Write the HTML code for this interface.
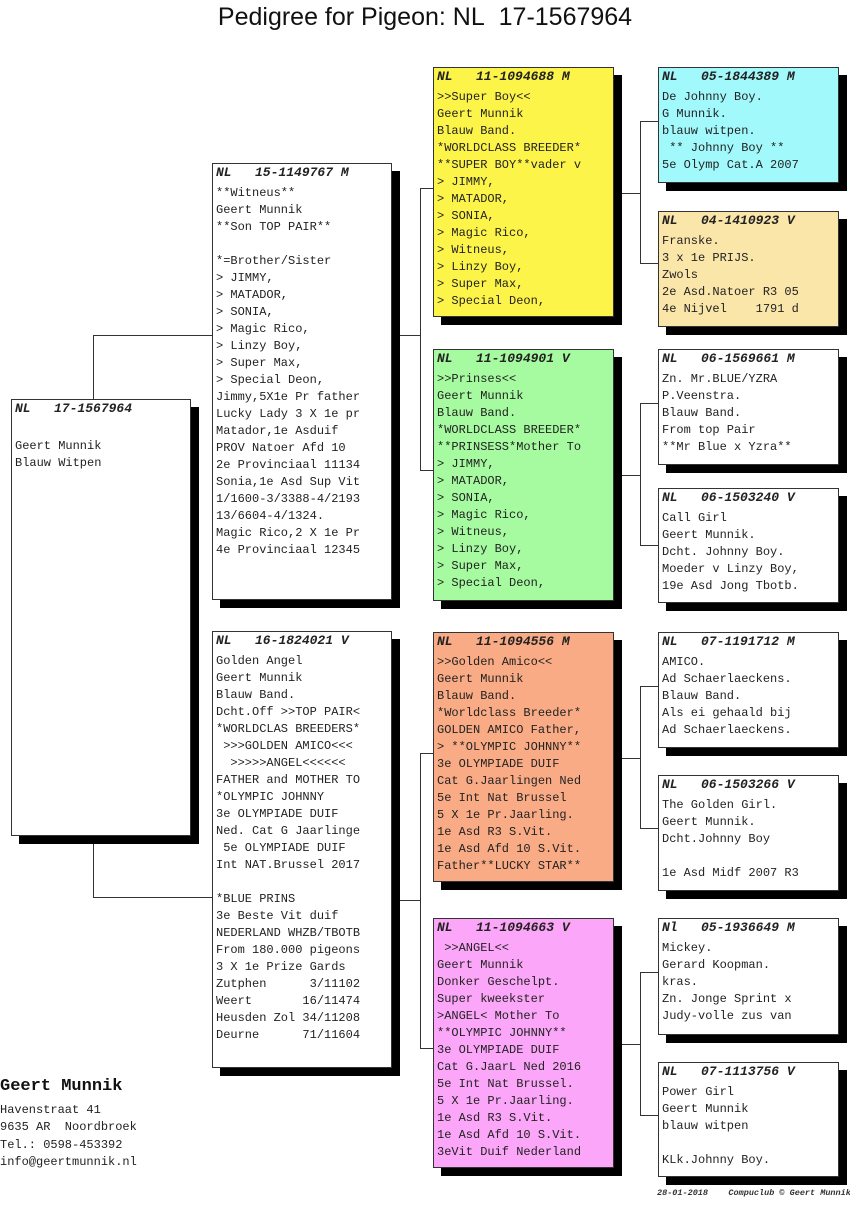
<!DOCTYPE html>
<html><head><meta charset="utf-8">
<style>
html,body{margin:0;padding:0;background:#fff;}
body{width:850px;height:1221px;position:relative;overflow:hidden;font-family:"Liberation Mono",monospace;color:#222;}
.b{position:absolute;border:1px solid #333;box-shadow:8px 8px 0 #000;box-sizing:border-box;padding:0 3px;font-size:12px;line-height:17px;white-space:pre;overflow:hidden;}
.h{font-weight:bold;font-style:italic;margin-bottom:4px;font-size:13px;}
.l{position:absolute;background:#333;}
.t{position:absolute;left:0;top:3px;width:850px;text-align:center;font-family:"Liberation Sans",Arial,sans-serif;font-size:25px;color:#111;}
</style></head><body>
<div class="t">Pedigree for Pigeon: NL&nbsp; 17-1567964</div>

<!-- connectors -->
<div class="l" style="left:93px;top:335px;width:1px;height:563px"></div>
<div class="l" style="left:93px;top:335px;width:119px;height:1px"></div>
<div class="l" style="left:93px;top:897px;width:119px;height:1px"></div>

<div class="l" style="left:392px;top:335px;width:28px;height:1px"></div>
<div class="l" style="left:420px;top:188px;width:1px;height:283px"></div>
<div class="l" style="left:420px;top:188px;width:13px;height:1px"></div>
<div class="l" style="left:420px;top:470px;width:13px;height:1px"></div>

<div class="l" style="left:392px;top:900px;width:28px;height:1px"></div>
<div class="l" style="left:420px;top:753px;width:1px;height:296px"></div>
<div class="l" style="left:420px;top:753px;width:13px;height:1px"></div>
<div class="l" style="left:420px;top:1048px;width:13px;height:1px"></div>

<div class="l" style="left:613px;top:193px;width:27px;height:1px"></div>
<div class="l" style="left:640px;top:121px;width:1px;height:143px"></div>
<div class="l" style="left:640px;top:121px;width:18px;height:1px"></div>
<div class="l" style="left:640px;top:263px;width:18px;height:1px"></div>

<div class="l" style="left:613px;top:475px;width:27px;height:1px"></div>
<div class="l" style="left:640px;top:403px;width:1px;height:143px"></div>
<div class="l" style="left:640px;top:403px;width:18px;height:1px"></div>
<div class="l" style="left:640px;top:545px;width:18px;height:1px"></div>

<div class="l" style="left:613px;top:758px;width:27px;height:1px"></div>
<div class="l" style="left:640px;top:686px;width:1px;height:143px"></div>
<div class="l" style="left:640px;top:686px;width:18px;height:1px"></div>
<div class="l" style="left:640px;top:828px;width:18px;height:1px"></div>

<div class="l" style="left:613px;top:1044px;width:27px;height:1px"></div>
<div class="l" style="left:640px;top:972px;width:1px;height:144px"></div>
<div class="l" style="left:640px;top:972px;width:18px;height:1px"></div>
<div class="l" style="left:640px;top:1115px;width:18px;height:1px"></div>

<!-- gen1 -->
<div class="b" style="left:11px;top:399px;width:180px;height:437px;background:#fff"><div class="h">NL   17-1567964</div>
Geert Munnik
Blauw Witpen</div>

<!-- gen2 -->
<div class="b" style="left:212px;top:163px;width:180px;height:437px;background:#fff"><div class="h">NL   15-1149767 M</div>**Witneus**
Geert Munnik
**Son TOP PAIR**

*=Brother/Sister
> JIMMY,
> MATADOR,
> SONIA,
> Magic Rico,
> Linzy Boy,
> Super Max,
> Special Deon,
Jimmy,5X1e Pr father
Lucky Lady 3 X 1e pr
Matador,1e Asduif
PROV Natoer Afd 10
2e Provinciaal 11134
Sonia,1e Asd Sup Vit
1/1600-3/3388-4/2193
13/6604-4/1324.
Magic Rico,2 X 1e Pr
4e Provinciaal 12345</div>

<div class="b" style="left:212px;top:631px;width:180px;height:437px;background:#fff"><div class="h">NL   16-1824021 V</div>Golden Angel
Geert Munnik
Blauw Band.
Dcht.Off >>TOP PAIR&lt;
*WORLDCLAS BREEDERS*
 >>>GOLDEN AMICO&lt;&lt;&lt;
  >>>>>ANGEL&lt;&lt;&lt;&lt;&lt;&lt;
FATHER and MOTHER TO
*OLYMPIC JOHNNY
3e OLYMPIADE DUIF
Ned. Cat G Jaarlinge
 5e OLYMPIADE DUIF
Int NAT.Brussel 2017

*BLUE PRINS
3e Beste Vit duif
NEDERLAND WHZB/TBOTB
From 180.000 pigeons
3 X 1e Prize Gards
Zutphen      3/11102
Weert       16/11474
Heusden Zol 34/11208
Deurne      71/11604</div>

<!-- gen3 -->
<div class="b" style="left:433px;top:67px;width:181px;height:250px;background:#fdf44a"><div class="h">NL   11-1094688 M</div>>>Super Boy&lt;&lt;
Geert Munnik
Blauw Band.
*WORLDCLASS BREEDER*
**SUPER BOY**vader v
> JIMMY,
> MATADOR,
> SONIA,
> Magic Rico,
> Witneus,
> Linzy Boy,
> Super Max,
> Special Deon,</div>

<div class="b" style="left:433px;top:349px;width:181px;height:252px;background:#a6fba0"><div class="h">NL   11-1094901 V</div>>>Prinses&lt;&lt;
Geert Munnik
Blauw Band.
*WORLDCLASS BREEDER*
**PRINSESS*Mother To
> JIMMY,
> MATADOR,
> SONIA,
> Magic Rico,
> Witneus,
> Linzy Boy,
> Super Max,
> Special Deon,</div>

<div class="b" style="left:433px;top:632px;width:181px;height:250px;background:#f9ab86"><div class="h">NL   11-1094556 M</div>>>Golden Amico&lt;&lt;
Geert Munnik
Blauw Band.
*Worldclass Breeder*
GOLDEN AMICO Father,
> **OLYMPIC JOHNNY**
3e OLYMPIADE DUIF
Cat G.Jaarlingen Ned
5e Int Nat Brussel
5 X 1e Pr.Jaarling.
1e Asd R3 S.Vit.
1e Asd Afd 10 S.Vit.
Father**LUCKY STAR**</div>

<div class="b" style="left:433px;top:918px;width:181px;height:250px;background:#fba6f8"><div class="h">NL   11-1094663 V</div> >>ANGEL&lt;&lt;
Geert Munnik
Donker Geschelpt.
Super kweekster
>ANGEL&lt; Mother To
**OLYMPIC JOHNNY**
3e OLYMPIADE DUIF
Cat G.JaarL Ned 2016
5e Int Nat Brussel.
5 X 1e Pr.Jaarling.
1e Asd R3 S.Vit.
1e Asd Afd 10 S.Vit.
3eVit Duif Nederland</div>

<!-- gen4 -->
<div class="b" style="left:658px;top:67px;width:181px;height:116px;background:#a2f9fb"><div class="h">NL   05-1844389 M</div>De Johnny Boy.
G Munnik.
blauw witpen.
 ** Johnny Boy **
5e Olymp Cat.A 2007</div>

<div class="b" style="left:658px;top:211px;width:181px;height:116px;background:#fbe6aa"><div class="h">NL   04-1410923 V</div>Franske.
3 x 1e PRIJS.
Zwols
2e Asd.Natoer R3 05
4e Nijvel    1791 d</div>

<div class="b" style="left:658px;top:349px;width:181px;height:116px;background:#fff"><div class="h">NL   06-1569661 M</div>Zn. Mr.BLUE/YZRA
P.Veenstra.
Blauw Band.
From top Pair
**Mr Blue x Yzra**</div>

<div class="b" style="left:658px;top:488px;width:181px;height:115px;background:#fff"><div class="h">NL   06-1503240 V</div>Call Girl
Geert Munnik.
Dcht. Johnny Boy.
Moeder v Linzy Boy,
19e Asd Jong Tbotb.</div>

<div class="b" style="left:658px;top:632px;width:181px;height:116px;background:#fff"><div class="h">NL   07-1191712 M</div>AMICO.
Ad Schaerlaeckens.
Blauw Band.
Als ei gehaald bij
Ad Schaerlaeckens.</div>

<div class="b" style="left:658px;top:775px;width:181px;height:116px;background:#fff"><div class="h">NL   06-1503266 V</div>The Golden Girl.
Geert Munnik.
Dcht.Johnny Boy

1e Asd Midf 2007 R3</div>

<div class="b" style="left:658px;top:918px;width:181px;height:117px;background:#fff"><div class="h">Nl   05-1936649 M</div>Mickey.
Gerard Koopman.
kras.
Zn. Jonge Sprint x
Judy-volle zus van</div>

<div class="b" style="left:658px;top:1062px;width:181px;height:115px;background:#fff"><div class="h">NL   07-1113756 V</div>Power Girl
Geert Munnik
blauw witpen

KLk.Johnny Boy.</div>

<!-- footer -->
<div style="position:absolute;left:0;top:1076px;font-size:17px;font-weight:bold;line-height:22px;color:#111">Geert Munnik</div>
<div style="position:absolute;left:0;top:1102px;font-size:12px;line-height:17.3px;white-space:pre;color:#222">Havenstraat 41
9635 AR  Noordbroek
Tel.: 0598-453392
info@geertmunnik.nl</div>
<div style="position:absolute;left:657px;top:1188px;font-size:8.5px;font-weight:bold;font-style:italic;white-space:pre;color:#333">28-01-2018    Compuclub © Geert Munnik</div>
</body></html>
